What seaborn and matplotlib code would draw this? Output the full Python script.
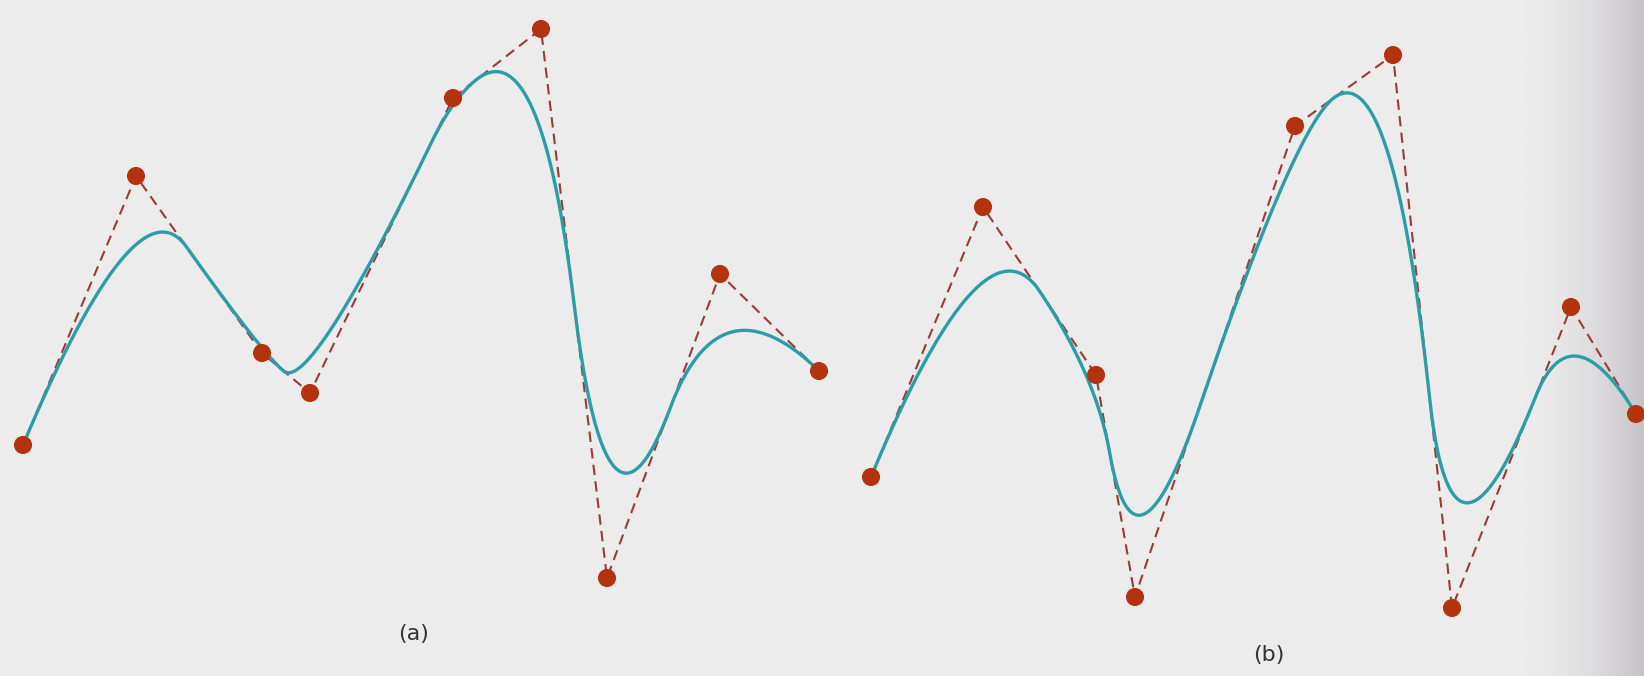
import numpy as np
import pandas as pd
import matplotlib
matplotlib.use("Agg")
import matplotlib.pyplot as plt
from matplotlib.colors import LinearSegmentedColormap
import seaborn as sns

# Control points (pixel coordinates of the scanned figure, y grows downward)
a_ctrl_x = [23, 136, 262, 310, 453, 541, 607, 720, 819]
a_ctrl_y = [445, 176, 353, 393, 98, 29, 578, 274, 371]
b_ctrl_x = [871, 983, 1096, 1135, 1295, 1393, 1452, 1571, 1636]
b_ctrl_y = [477, 207, 375, 597, 126, 55, 608, 307, 414]
# knot spacings of the quadratic B-splines
a_knot_gaps = [1.0, 1.5, 1.83, 0.32, 0.87, 0.87, 0.69]
b_knot_gaps = [1.0, 1.0, 1.86, 2.79, 4.18, 2.56, 1.10]
degree = 2
panel_labels = ["(a)", "(b)"]


def bspline(px, py, gaps, k, n=900):
    P = np.column_stack([px, py]).astype(float)
    m = len(P)
    inner = np.cumsum(gaps)
    L = inner[-1]
    knots = np.concatenate([np.zeros(k + 1), inner[:-1], np.full(k + 1, L)])
    ts = np.linspace(0, L, n)
    ts[-1] -= 1e-9
    out = []
    for t in ts:
        N = np.array([1.0 if knots[i] <= t < knots[i + 1] else 0.0
                      for i in range(len(knots) - 1)])
        for d in range(1, k + 1):
            Nn = np.zeros(len(knots) - 1 - d)
            for i in range(len(Nn)):
                a = 0.0
                if knots[i + d] != knots[i]:
                    a = (t - knots[i]) / (knots[i + d] - knots[i]) * N[i]
                b = 0.0
                if knots[i + d + 1] != knots[i + 1]:
                    b = (knots[i + d + 1] - t) / (knots[i + d + 1] - knots[i + 1]) * N[i + 1]
                Nn[i] = a + b
            N = Nn
        out.append(N[:m] @ P)
    out = np.array(out)
    return out[:, 0], out[:, 1]


sns.set_theme(style="white")
W, H = 1644, 676
fig = plt.figure(figsize=(W / 100, H / 100), dpi=100)
ax = fig.add_axes([0, 0, 1, 1])
bg = "#ececec"
fig.patch.set_facecolor(bg)
ax.set_facecolor(bg)

# right-edge page shadow
grad = np.linspace(0, 1, 300) ** 1.8
shadow = np.tile(grad, (10, 1))
cmap = LinearSegmentedColormap.from_list("sh", [bg, "#c6c3c8"])
ax.imshow(shadow, extent=[1520, 1644, 676, 0], aspect="auto", cmap=cmap, zorder=0)

dot_color = "#b5320f"
dash_color = "#9c3a36"
curve_color = "#2b9da6"

for cx, cy, gaps in [(a_ctrl_x, a_ctrl_y, a_knot_gaps), (b_ctrl_x, b_ctrl_y, b_knot_gaps)]:
    poly = pd.DataFrame({"x": cx, "y": cy})
    sns.lineplot(data=poly, x="x", y="y", sort=False, estimator=None, ax=ax,
                 color=dash_color, lw=1.5, linestyle=(0, (5, 3)), zorder=2)
    sx, sy = bspline(cx, cy, gaps, degree)
    curve = pd.DataFrame({"x": sx, "y": sy})
    sns.lineplot(data=curve, x="x", y="y", sort=False, estimator=None, ax=ax,
                 color=curve_color, lw=2.4, zorder=3)
    sns.scatterplot(data=poly, x="x", y="y", ax=ax, s=170, color=dot_color,
                    edgecolor="none", zorder=4)

ax.text(414, 634, panel_labels[0], fontsize=16, color="#333333", ha="center", va="center")
ax.text(1269, 655, panel_labels[1], fontsize=16, color="#333333", ha="center", va="center")

ax.set_xlim(0, W)
ax.set_ylim(H, 0)
ax.set_axis_off()
fig.savefig("out.png", dpi=100, facecolor=bg)
